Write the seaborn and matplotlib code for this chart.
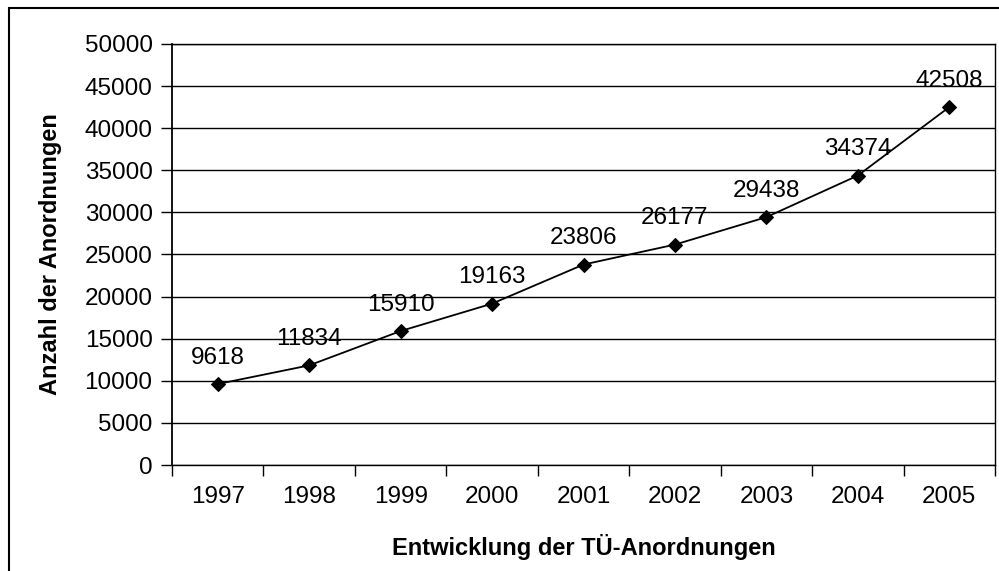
import numpy as np
import pandas as pd
import seaborn as sns
import matplotlib.pyplot as plt
from matplotlib.patches import Rectangle

years = ["1997", "1998", "1999", "2000", "2001", "2002", "2003", "2004", "2005"]
anordnungen = [9618, 11834, 15910, 19163, 23806, 26177, 29438, 34374, 42508]

df = pd.DataFrame({"pos": np.arange(len(years)), "wert": anordnungen})

sns.set_style("white")
plt.rcParams["font.family"] = ["Liberation Sans", "DejaVu Sans"]
plt.rcParams["text.color"] = "black"
plt.rcParams["axes.labelcolor"] = "black"
plt.rcParams["xtick.color"] = "black"
plt.rcParams["ytick.color"] = "black"

fig = plt.figure(figsize=(9.99, 5.71), dpi=100)
ax = fig.add_axes([0.1722, 0.1856, 0.996 - 0.1722, 0.923 - 0.1856])

# outer chart border (left/top visible, rest clipped)
fig.patches.append(Rectangle((9 / 999, -0.1), 1.2, 1 - 8 / 571 + 0.1,
                             transform=fig.transFigure, fill=False,
                             edgecolor="black", linewidth=1.5))

sns.lineplot(data=df, x="pos", y="wert", ax=ax, color="black", linewidth=1.3,
             marker="D", markersize=7, markeredgecolor="black")

for x, v in zip(df["pos"], df["wert"]):
    ax.annotate(str(v), (x, v), xytext=(0, 11), textcoords="offset points",
                ha="center", va="bottom", fontsize=17.5)

ax.set_xlim(-0.5, len(years) - 0.5)
ax.set_ylim(0, 50000)
ax.set_yticks(np.arange(0, 50001, 5000))
ax.yaxis.grid(True, color="black", linewidth=1)
ax.set_axisbelow(True)

ax.set_xticks(np.arange(len(years)))
ax.set_xticklabels(years)
ax.set_xticks(np.arange(len(years) + 1) - 0.5, minor=True)
ax.tick_params(axis="x", which="major", length=0, pad=15, labelsize=17.5)
ax.tick_params(axis="x", which="minor", length=8, width=1, direction="out", bottom=True)
ax.tick_params(axis="y", length=8, width=1, direction="out", pad=6, labelsize=17.5, left=True)

for s in ax.spines.values():
    s.set_color("black")
    s.set_linewidth(1)
ax.spines["left"].set_linewidth(1.3)

ax.set_xlabel("Entwicklung der TÜ-Anordnungen", fontsize=17, fontweight="bold", labelpad=19)
ax.set_ylabel("Anzahl der Anordnungen", fontsize=17, fontweight="bold", labelpad=16)

fig.savefig("out.png", dpi=100)
